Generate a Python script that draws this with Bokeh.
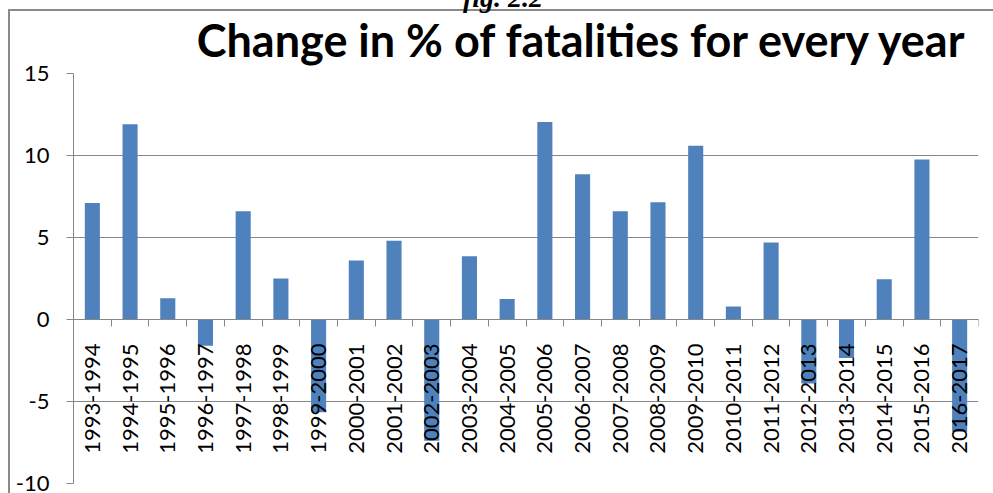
import math
from bokeh.plotting import figure
from bokeh.models import (Range1d, FixedTicker, LinearAxis, Title, Div,
                          ColumnDataSource, InlineStyleSheet)
from bokeh.embed import file_html
from bokeh.resources import INLINE

categories = ["1993-1994", "1994-1995", "1995-1996", "1996-1997", "1997-1998",
              "1998-1999", "1999-2000", "2000-2001", "2001-2002", "2002-2003",
              "2003-2004", "2004-2005", "2005-2006", "2006-2007", "2007-2008",
              "2008-2009", "2009-2010", "2010-2011", "2011-2012", "2012-2013",
              "2013-2014", "2014-2015", "2015-2016", "2016-2017"]
values = [7.1, 11.9, 1.3, -1.6, 6.6, 2.5, -5.65, 3.6, 4.8, -7.4, 3.85, 1.25,
          12.05, 8.85, 6.6, 7.15, 10.6, 0.8, 4.7, -3.9, -2.35, 2.45, 9.75, -6.85]
y_ticks = [-10, -5, 0, 5, 10, 15]
y_tick_labels = ["-10", "-5", "0", "5", "10", "15"]
title_text = "Change in % of fatalities for every year"
caption_text = "fig. 2.2"

BAR = "#4F81BD"
GRID = "#878787"
FONT = "Lato"

n = len(categories)
centers = [i + 0.5 for i in range(n)]
src = ColumnDataSource(dict(x=centers, top=values, cat=categories))

p = figure(width=993, height=493, output_backend="svg", toolbar_location=None,
           x_range=Range1d(0, n), y_range=Range1d(-10, 15),
           x_axis_location=None, y_axis_location="left",
           min_border_left=73, min_border_right=15, min_border_top=73,
           min_border_bottom=10)
p.stylesheets = [InlineStyleSheet(css="""
:host::after {
  content: "";
  position: absolute;
  left: 8px; top: 9px; right: 0px; bottom: 0px;
  border-top: 2px solid #8a8a8a;
  border-left: 2px solid #8a8a8a;
  pointer-events: none;
  z-index: 10;
}
""")]
p.outline_line_color = None
p.xgrid.visible = False
p.ygrid.ticker = FixedTicker(ticks=y_ticks)
p.ygrid.grid_line_color = GRID
p.ygrid.grid_line_width = 1

p.vbar(x="x", top="top", bottom=0, width=0.4, source=src,
       fill_color=BAR, line_color=None)

ya = p.yaxis[0]
ya.ticker = FixedTicker(ticks=y_ticks)
ya.major_label_overrides = {t: l for t, l in zip(y_ticks, y_tick_labels)}
ya.axis_line_color = GRID
ya.major_tick_line_color = GRID
ya.major_tick_in = 0
ya.major_tick_out = 7
ya.minor_tick_line_color = None
ya.major_label_standoff = 17
ya.major_label_text_font = FONT
ya.major_label_text_font_size = "22px"
ya.major_label_text_color = "black"

# category axis at y = 0: ticks at category boundaries
xa_ticks = LinearAxis(fixed_location=0, ticker=FixedTicker(ticks=list(range(n + 1))))
xa_ticks.axis_line_color = GRID
xa_ticks.major_tick_line_color = GRID
xa_ticks.major_tick_in = 0
xa_ticks.major_tick_out = 7
xa_ticks.minor_tick_line_color = None
xa_ticks.major_label_text_font_size = "0px"
xa_ticks.major_label_overrides = {i: "" for i in range(n + 1)}
p.add_layout(xa_ticks, "below")

# category labels at centers
xa_lab = LinearAxis(fixed_location=0, ticker=FixedTicker(ticks=centers))
xa_lab.axis_line_color = None
xa_lab.major_tick_line_color = None
xa_lab.minor_tick_line_color = None
xa_lab.major_label_overrides = {c: cat for c, cat in zip(centers, categories)}
xa_lab.major_label_orientation = math.pi / 2
xa_lab.major_label_standoff = 18
xa_lab.major_label_text_font = FONT
xa_lab.major_label_text_font_size = "22px"
xa_lab.major_label_text_color = "black"
p.add_layout(xa_lab, "below")

t = Title(text=title_text, align="right", text_font=FONT, text_font_style="bold",
          text_font_size="45px", text_color="black", offset=10, standoff=14)
p.add_layout(t, "above")

cap = Div(text=('<span style="font-family: \'Liberation Serif\'; font-size: 28px; '
                'font-weight: bold; font-style: italic; line-height: 28px; '
                'white-space: nowrap; color: black;">' + caption_text + '</span>'),
          styles={"position": "absolute", "left": "463px", "top": "-16px",
                  "z-index": "100", "margin": "0", "padding": "0"})

open("out.html", "w").write(file_html([p, cap], INLINE))
